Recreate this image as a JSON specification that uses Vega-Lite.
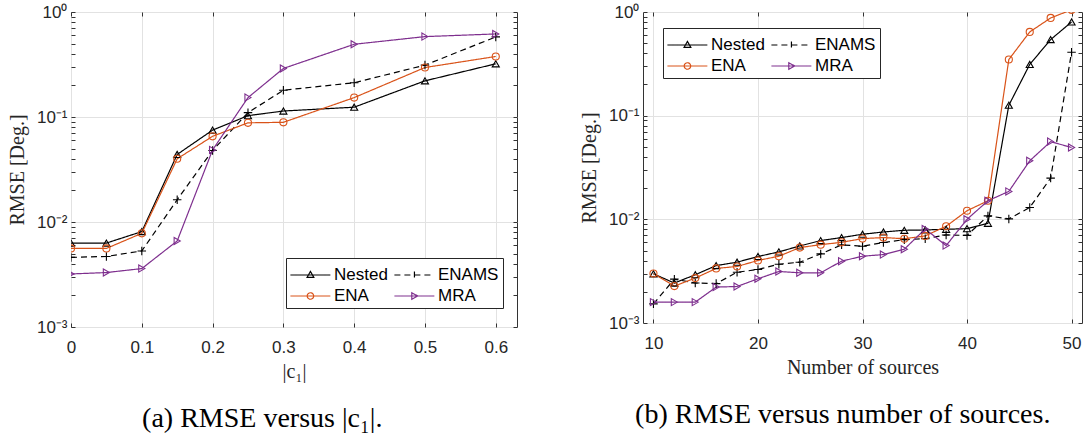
{
  "$schema": "https://vega.github.io/schema/vega-lite/v6.json",
  "padding": {"left": 6, "top": 2, "right": 0, "bottom": 0},
  "background": "white",
  "datasets": {
    "a": [
      {"x": 0, "y": 0.0063, "s": "Nested"}, {"x": 0.05, "y": 0.0063, "s": "Nested"}, {"x": 0.1, "y": 0.0081, "s": "Nested"}, {"x": 0.15, "y": 0.044, "s": "Nested"}, {"x": 0.2, "y": 0.075, "s": "Nested"}, {"x": 0.25, "y": 0.103, "s": "Nested"}, {"x": 0.3, "y": 0.114, "s": "Nested"}, {"x": 0.4, "y": 0.124, "s": "Nested"}, {"x": 0.5, "y": 0.221, "s": "Nested"}, {"x": 0.6, "y": 0.321, "s": "Nested"},
      {"x": 0, "y": 0.0046, "s": "ENAMS"}, {"x": 0.05, "y": 0.0047, "s": "ENAMS"}, {"x": 0.1, "y": 0.0053, "s": "ENAMS"}, {"x": 0.15, "y": 0.0163, "s": "ENAMS"}, {"x": 0.2, "y": 0.048, "s": "ENAMS"}, {"x": 0.25, "y": 0.11, "s": "ENAMS"}, {"x": 0.3, "y": 0.18, "s": "ENAMS"}, {"x": 0.4, "y": 0.212, "s": "ENAMS"}, {"x": 0.5, "y": 0.312, "s": "ENAMS"}, {"x": 0.6, "y": 0.579, "s": "ENAMS"},
      {"x": 0, "y": 0.0056, "s": "ENA"}, {"x": 0.05, "y": 0.0056, "s": "ENA"}, {"x": 0.1, "y": 0.0078, "s": "ENA"}, {"x": 0.15, "y": 0.04, "s": "ENA"}, {"x": 0.2, "y": 0.0655, "s": "ENA"}, {"x": 0.25, "y": 0.088, "s": "ENA"}, {"x": 0.3, "y": 0.089, "s": "ENA"}, {"x": 0.4, "y": 0.153, "s": "ENA"}, {"x": 0.5, "y": 0.296, "s": "ENA"}, {"x": 0.6, "y": 0.377, "s": "ENA"},
      {"x": 0, "y": 0.0032, "s": "MRA"}, {"x": 0.05, "y": 0.0033, "s": "MRA"}, {"x": 0.1, "y": 0.0036, "s": "MRA"}, {"x": 0.15, "y": 0.0066, "s": "MRA"}, {"x": 0.2, "y": 0.0486, "s": "MRA"}, {"x": 0.25, "y": 0.153, "s": "MRA"}, {"x": 0.3, "y": 0.29, "s": "MRA"}, {"x": 0.4, "y": 0.493, "s": "MRA"}, {"x": 0.5, "y": 0.583, "s": "MRA"}, {"x": 0.6, "y": 0.618, "s": "MRA"}
    ],
    "b": [
      {"x": 10, "y": 0.00298, "s": "Nested"}, {"x": 12, "y": 0.00243, "s": "Nested"}, {"x": 14, "y": 0.00292, "s": "Nested"}, {"x": 16, "y": 0.00358, "s": "Nested"}, {"x": 18, "y": 0.00386, "s": "Nested"}, {"x": 20, "y": 0.00438, "s": "Nested"}, {"x": 22, "y": 0.00485, "s": "Nested"}, {"x": 24, "y": 0.00554, "s": "Nested"}, {"x": 26, "y": 0.00624, "s": "Nested"}, {"x": 28, "y": 0.00667, "s": "Nested"}, {"x": 30, "y": 0.00718, "s": "Nested"}, {"x": 32, "y": 0.00755, "s": "Nested"}, {"x": 34, "y": 0.00784, "s": "Nested"}, {"x": 36, "y": 0.0079, "s": "Nested"}, {"x": 38, "y": 0.00802, "s": "Nested"}, {"x": 40, "y": 0.00813, "s": "Nested"}, {"x": 42, "y": 0.00916, "s": "Nested"}, {"x": 44, "y": 0.126, "s": "Nested"}, {"x": 46, "y": 0.312, "s": "Nested"}, {"x": 48, "y": 0.542, "s": "Nested"}, {"x": 50, "y": 0.801, "s": "Nested"},
      {"x": 10, "y": 0.00153, "s": "ENAMS"}, {"x": 12, "y": 0.00265, "s": "ENAMS"}, {"x": 14, "y": 0.00243, "s": "ENAMS"}, {"x": 16, "y": 0.0024, "s": "ENAMS"}, {"x": 18, "y": 0.00309, "s": "ENAMS"}, {"x": 20, "y": 0.00328, "s": "ENAMS"}, {"x": 22, "y": 0.00369, "s": "ENAMS"}, {"x": 24, "y": 0.00386, "s": "ENAMS"}, {"x": 26, "y": 0.00464, "s": "ENAMS"}, {"x": 28, "y": 0.00567, "s": "ENAMS"}, {"x": 30, "y": 0.0055, "s": "ENAMS"}, {"x": 32, "y": 0.00597, "s": "ENAMS"}, {"x": 34, "y": 0.00637, "s": "ENAMS"}, {"x": 36, "y": 0.0065, "s": "ENAMS"}, {"x": 38, "y": 0.00707, "s": "ENAMS"}, {"x": 40, "y": 0.007, "s": "ENAMS"}, {"x": 42, "y": 0.0108, "s": "ENAMS"}, {"x": 44, "y": 0.0101, "s": "ENAMS"}, {"x": 46, "y": 0.013, "s": "ENAMS"}, {"x": 48, "y": 0.025, "s": "ENAMS"}, {"x": 50, "y": 0.409, "s": "ENAMS"},
      {"x": 10, "y": 0.003, "s": "ENA"}, {"x": 12, "y": 0.00227, "s": "ENA"}, {"x": 14, "y": 0.00271, "s": "ENA"}, {"x": 16, "y": 0.00336, "s": "ENA"}, {"x": 18, "y": 0.00351, "s": "ENA"}, {"x": 20, "y": 0.00401, "s": "ENA"}, {"x": 22, "y": 0.00441, "s": "ENA"}, {"x": 24, "y": 0.00534, "s": "ENA"}, {"x": 26, "y": 0.0057, "s": "ENA"}, {"x": 28, "y": 0.006, "s": "ENA"}, {"x": 30, "y": 0.00652, "s": "ENA"}, {"x": 32, "y": 0.00667, "s": "ENA"}, {"x": 34, "y": 0.0065, "s": "ENA"}, {"x": 36, "y": 0.00692, "s": "ENA"}, {"x": 38, "y": 0.00857, "s": "ENA"}, {"x": 40, "y": 0.0121, "s": "ENA"}, {"x": 42, "y": 0.0151, "s": "ENA"}, {"x": 44, "y": 0.348, "s": "ENA"}, {"x": 46, "y": 0.642, "s": "ENA"}, {"x": 48, "y": 0.876, "s": "ENA"}, {"x": 50, "y": 1.05, "s": "ENA"},
      {"x": 10, "y": 0.00159, "s": "MRA"}, {"x": 12, "y": 0.00159, "s": "MRA"}, {"x": 14, "y": 0.00159, "s": "MRA"}, {"x": 16, "y": 0.00222, "s": "MRA"}, {"x": 18, "y": 0.00225, "s": "MRA"}, {"x": 20, "y": 0.00267, "s": "MRA"}, {"x": 22, "y": 0.00314, "s": "MRA"}, {"x": 24, "y": 0.00305, "s": "MRA"}, {"x": 26, "y": 0.00305, "s": "MRA"}, {"x": 28, "y": 0.00395, "s": "MRA"}, {"x": 30, "y": 0.00441, "s": "MRA"}, {"x": 32, "y": 0.00457, "s": "MRA"}, {"x": 34, "y": 0.00515, "s": "MRA"}, {"x": 36, "y": 0.00807, "s": "MRA"}, {"x": 38, "y": 0.00558, "s": "MRA"}, {"x": 40, "y": 0.01, "s": "MRA"}, {"x": 42, "y": 0.0151, "s": "MRA"}, {"x": 44, "y": 0.0186, "s": "MRA"}, {"x": 46, "y": 0.0367, "s": "MRA"}, {"x": 48, "y": 0.0562, "s": "MRA"}, {"x": 50, "y": 0.0493, "s": "MRA"}
    ]
  },
  "hconcat": [
    {
      "width": 446,
      "height": 315,
      "data": {"name": "a"},
      "title": {"text": "(a) RMSE versus |c₁|.", "orient": "bottom", "anchor": "middle", "frame": "bounds", "font": "Liberation Serif", "fontSize": 28, "fontWeight": "normal", "color": "black", "offset": 24},
      "layer": [
        {
          "mark": {"type": "line", "strokeWidth": 1.2, "clip": true},
          "encoding": {
            "x": {"field": "x", "type": "quantitative", "scale": {"domain": [0, 0.63], "nice": false, "zero": false},
              "axis": {"orient": "bottom", "values": [0, 0.1, 0.2, 0.3, 0.4, 0.5, 0.6], "format": "~g", "grid": true, "ticks": true, "tickSize": -4, "domain": false, "labelPadding": 16, "title": "|c₁|", "titleY": 44, "titleBaseline": "middle"}},
            "y": {"field": "y", "type": "quantitative", "scale": {"type": "log", "domain": [0.001, 1], "nice": false},
              "axis": {"orient": "left", "values": [0.001, 0.002, 0.003, 0.004, 0.005, 0.006, 0.007, 0.008, 0.009, 0.01, 0.02, 0.03, 0.04, 0.05, 0.06, 0.07, 0.08, 0.09, 0.1, 0.2, 0.3, 0.4, 0.5, 0.6, 0.7, 0.8, 0.9, 1], "grid": true,
                "gridOpacity": {"condition": {"test": "abs(log(datum.value)/LN10 - round(log(datum.value)/LN10)) < 0.001", "value": 1}, "value": 0},
                "ticks": true, "tickSize": -4, "domain": false, "labelPadding": 8, "minExtent": 40, "maxExtent": 40, "title": "RMSE [Deg.]", "titlePadding": 4,
                "labelExpr": "abs(datum.value - 1) < 1e-6 ? '10⁰' : abs(datum.value - 0.1) < 1e-7 ? '10⁻¹' : abs(datum.value - 0.01) < 1e-8 ? '10⁻²' : abs(datum.value - 0.001) < 1e-9 ? '10⁻³' : ''"}},
            "color": {"field": "s", "type": "nominal", "scale": {"domain": ["Nested", "ENA", "ENAMS", "MRA"], "range": ["#000000", "#D95319", "#000000", "#7E2F8E"]}, "legend": null},
            "strokeDash": {"field": "s", "type": "nominal", "scale": {"domain": ["Nested", "ENA", "ENAMS", "MRA"], "range": [[1, 0], [1, 0], [6, 4], [1, 0]]}, "legend": null}
          }
        },
        {
          "mark": {"type": "point", "filled": false, "strokeWidth": 1.1, "size": 50, "clip": true, "opacity": 1},
          "encoding": {
            "x": {"field": "x", "type": "quantitative", "scale": {"domain": [0, 0.63], "nice": false, "zero": false},
              "axis": {"orient": "top", "values": [0, 0.1, 0.2, 0.3, 0.4, 0.5, 0.6], "grid": false, "labels": false, "domain": false, "ticks": true, "tickSize": -4, "title": null}},
            "y": {"field": "y", "type": "quantitative", "scale": {"type": "log", "domain": [0.001, 1], "nice": false},
              "axis": {"orient": "right", "values": [0.001, 0.002, 0.003, 0.004, 0.005, 0.006, 0.007, 0.008, 0.009, 0.01, 0.02, 0.03, 0.04, 0.05, 0.06, 0.07, 0.08, 0.09, 0.1, 0.2, 0.3, 0.4, 0.5, 0.6, 0.7, 0.8, 0.9, 1], "grid": false, "labels": false, "domain": false, "ticks": true, "tickSize": -4, "title": null}},
            "color": {"field": "s", "type": "nominal", "scale": {"domain": ["Nested", "ENA", "ENAMS", "MRA"], "range": ["#000000", "#D95319", "#000000", "#7E2F8E"]}, "legend": null},
            "shape": {"field": "s", "type": "nominal", "scale": {"domain": ["Nested", "ENA", "ENAMS", "MRA"], "range": ["triangle-up", "circle", "M-1.2,0H1.2M0,-1.2V1.2", "triangle-right"]}, "legend": null}
          }
        },
        {
          "mark": {"type": "point", "filled": false, "strokeWidth": 1.2, "opacity": 0, "clip": true},
          "encoding": {
            "x": {"field": "x", "type": "quantitative", "scale": {"domain": [0, 0.63], "nice": false, "zero": false}, "axis": null},
            "y": {"field": "y", "type": "quantitative", "scale": {"type": "log", "domain": [0.001, 1], "nice": false}, "axis": null},
            "color": {"field": "s", "type": "nominal", "scale": {"domain": ["Nested", "ENA", "ENAMS", "MRA"], "range": ["#000000", "#D95319", "#000000", "#7E2F8E"]},
              "legend": {"orient": "none", "legendX": 215, "legendY": 246, "title": null, "columns": 2, "columnPadding": 3, "rowPadding": 0, "padding": 4, "fillColor": "white", "strokeColor": "#262626", "symbolSize": 576, "symbolStrokeWidth": 1.2, "symbolOpacity": 1, "labelOffset": 18, "labelFont": "Liberation Sans", "labelFontSize": 17, "labelColor": "black"}},
            "shape": {"field": "s", "type": "nominal", "scale": {"domain": ["Nested", "ENA", "ENAMS", "MRA"], "range": [
              "M-1.05,0H2.28M0.62,-0.3L0.9,0.2L0.34,0.2Z",
              "M-1.05,0H2.28M0.35,0A0.27,0.27 0 1,0 0.89,0A0.27,0.27 0 1,0 0.35,0",
              "M-1.05,0H2.28M0.62,-0.3V0.3",
              "M-1.05,0H2.28M0.4,-0.27L0.9,0L0.4,0.27Z"]},
              "legend": {"orient": "none", "legendX": 215, "legendY": 246, "title": null, "columns": 2, "columnPadding": 3, "rowPadding": 0, "padding": 4, "fillColor": "white", "strokeColor": "#262626", "symbolSize": 576, "symbolStrokeWidth": 1.2, "symbolOpacity": 1, "labelOffset": 18, "labelFont": "Liberation Sans", "labelFontSize": 17, "labelColor": "black"}},
            "strokeDash": {"field": "s", "type": "nominal", "scale": {"domain": ["Nested", "ENA", "ENAMS", "MRA"], "range": [[1, 0], [1, 0], [6, 4], [1, 0]]},
              "legend": {"orient": "none", "legendX": 215, "legendY": 246, "title": null, "columns": 2, "columnPadding": 3, "rowPadding": 0, "padding": 4, "fillColor": "white", "strokeColor": "#262626", "symbolSize": 576, "symbolStrokeWidth": 1.2, "symbolOpacity": 1, "labelOffset": 18, "labelFont": "Liberation Sans", "labelFontSize": 17, "labelColor": "black"}}
          }
        }
      ],
      "resolve": {"axis": {"x": "independent", "y": "independent"}, "scale": {"color": "independent", "shape": "independent", "strokeDash": "independent"}}
    },
    {
      "width": 439,
      "height": 311,
      "data": {"name": "b"},
      "title": {"text": "(b) RMSE versus number of sources.", "orient": "bottom", "anchor": "middle", "frame": "bounds", "font": "Liberation Serif", "fontSize": 28, "fontWeight": "normal", "color": "black", "offset": 24, "dx": 12},
      "layer": [
        {
          "mark": {"type": "line", "strokeWidth": 1.2, "clip": true},
          "encoding": {
            "x": {"field": "x", "type": "quantitative", "scale": {"domain": [9, 51], "nice": false, "zero": false},
              "axis": {"orient": "bottom", "values": [10, 20, 30, 40, 50], "format": "d", "grid": true, "ticks": true, "tickSize": -4, "domain": false, "labelPadding": 16, "title": "Number of sources", "titleY": 44, "titleBaseline": "middle"}},
            "y": {"field": "y", "type": "quantitative", "scale": {"type": "log", "domain": [0.001, 1], "nice": false},
              "axis": {"orient": "left", "values": [0.001, 0.002, 0.003, 0.004, 0.005, 0.006, 0.007, 0.008, 0.009, 0.01, 0.02, 0.03, 0.04, 0.05, 0.06, 0.07, 0.08, 0.09, 0.1, 0.2, 0.3, 0.4, 0.5, 0.6, 0.7, 0.8, 0.9, 1], "grid": true,
                "gridOpacity": {"condition": {"test": "abs(log(datum.value)/LN10 - round(log(datum.value)/LN10)) < 0.001", "value": 1}, "value": 0},
                "ticks": true, "tickSize": -4, "domain": false, "labelPadding": 8, "minExtent": 40, "maxExtent": 40, "title": "RMSE [Deg.]", "titlePadding": 4,
                "labelExpr": "abs(datum.value - 1) < 1e-6 ? '10⁰' : abs(datum.value - 0.1) < 1e-7 ? '10⁻¹' : abs(datum.value - 0.01) < 1e-8 ? '10⁻²' : abs(datum.value - 0.001) < 1e-9 ? '10⁻³' : ''"}},
            "color": {"field": "s", "type": "nominal", "scale": {"domain": ["Nested", "ENA", "ENAMS", "MRA"], "range": ["#000000", "#D95319", "#000000", "#7E2F8E"]}, "legend": null},
            "strokeDash": {"field": "s", "type": "nominal", "scale": {"domain": ["Nested", "ENA", "ENAMS", "MRA"], "range": [[1, 0], [1, 0], [6, 4], [1, 0]]}, "legend": null}
          }
        },
        {
          "mark": {"type": "point", "filled": false, "strokeWidth": 1.1, "size": 50, "clip": true, "opacity": 1},
          "encoding": {
            "x": {"field": "x", "type": "quantitative", "scale": {"domain": [9, 51], "nice": false, "zero": false},
              "axis": {"orient": "top", "values": [10, 20, 30, 40, 50], "grid": false, "labels": false, "domain": false, "ticks": true, "tickSize": -4, "title": null}},
            "y": {"field": "y", "type": "quantitative", "scale": {"type": "log", "domain": [0.001, 1], "nice": false},
              "axis": {"orient": "right", "values": [0.001, 0.002, 0.003, 0.004, 0.005, 0.006, 0.007, 0.008, 0.009, 0.01, 0.02, 0.03, 0.04, 0.05, 0.06, 0.07, 0.08, 0.09, 0.1, 0.2, 0.3, 0.4, 0.5, 0.6, 0.7, 0.8, 0.9, 1], "grid": false, "labels": false, "domain": false, "ticks": true, "tickSize": -4, "title": null}},
            "color": {"field": "s", "type": "nominal", "scale": {"domain": ["Nested", "ENA", "ENAMS", "MRA"], "range": ["#000000", "#D95319", "#000000", "#7E2F8E"]}, "legend": null},
            "shape": {"field": "s", "type": "nominal", "scale": {"domain": ["Nested", "ENA", "ENAMS", "MRA"], "range": ["triangle-up", "circle", "M-1.2,0H1.2M0,-1.2V1.2", "triangle-right"]}, "legend": null}
          }
        },
        {
          "mark": {"type": "point", "filled": false, "strokeWidth": 1.2, "opacity": 0, "clip": true},
          "encoding": {
            "x": {"field": "x", "type": "quantitative", "scale": {"domain": [9, 51], "nice": false, "zero": false}, "axis": null},
            "y": {"field": "y", "type": "quantitative", "scale": {"type": "log", "domain": [0.001, 1], "nice": false}, "axis": null},
            "color": {"field": "s", "type": "nominal", "scale": {"domain": ["Nested", "ENA", "ENAMS", "MRA"], "range": ["#000000", "#D95319", "#000000", "#7E2F8E"]},
              "legend": {"orient": "none", "legendX": 20, "legendY": 16, "title": null, "columns": 2, "columnPadding": 3, "rowPadding": 0, "padding": 4, "fillColor": "white", "strokeColor": "#262626", "symbolSize": 576, "symbolStrokeWidth": 1.2, "symbolOpacity": 1, "labelOffset": 18, "labelFont": "Liberation Sans", "labelFontSize": 17, "labelColor": "black"}},
            "shape": {"field": "s", "type": "nominal", "scale": {"domain": ["Nested", "ENA", "ENAMS", "MRA"], "range": [
              "M-1.05,0H2.28M0.62,-0.3L0.9,0.2L0.34,0.2Z",
              "M-1.05,0H2.28M0.35,0A0.27,0.27 0 1,0 0.89,0A0.27,0.27 0 1,0 0.35,0",
              "M-1.05,0H2.28M0.62,-0.3V0.3",
              "M-1.05,0H2.28M0.4,-0.27L0.9,0L0.4,0.27Z"]},
              "legend": {"orient": "none", "legendX": 20, "legendY": 16, "title": null, "columns": 2, "columnPadding": 3, "rowPadding": 0, "padding": 4, "fillColor": "white", "strokeColor": "#262626", "symbolSize": 576, "symbolStrokeWidth": 1.2, "symbolOpacity": 1, "labelOffset": 18, "labelFont": "Liberation Sans", "labelFontSize": 17, "labelColor": "black"}},
            "strokeDash": {"field": "s", "type": "nominal", "scale": {"domain": ["Nested", "ENA", "ENAMS", "MRA"], "range": [[1, 0], [1, 0], [6, 4], [1, 0]]},
              "legend": {"orient": "none", "legendX": 20, "legendY": 16, "title": null, "columns": 2, "columnPadding": 3, "rowPadding": 0, "padding": 4, "fillColor": "white", "strokeColor": "#262626", "symbolSize": 576, "symbolStrokeWidth": 1.2, "symbolOpacity": 1, "labelOffset": 18, "labelFont": "Liberation Sans", "labelFontSize": 17, "labelColor": "black"}}
          }
        }
      ],
      "resolve": {"axis": {"x": "independent", "y": "independent"}, "scale": {"color": "independent", "shape": "independent", "strokeDash": "independent"}}
    }
  ],
  "spacing": 60,
  "config": {
    "view": {"stroke": "#333333", "strokeWidth": 1},
    "axis": {"labelFont": "Liberation Sans", "labelFontSize": 17, "labelColor": "#262626", "labelFlush": false, "labelOverlap": false, "labelBound": false, "gridColor": "#e2e2e2", "gridWidth": 1, "tickColor": "#333333", "tickWidth": 1, "titleFont": "Liberation Serif", "titleFontSize": 20, "titleFontWeight": "normal", "titleColor": "#262626"}
  }
}
